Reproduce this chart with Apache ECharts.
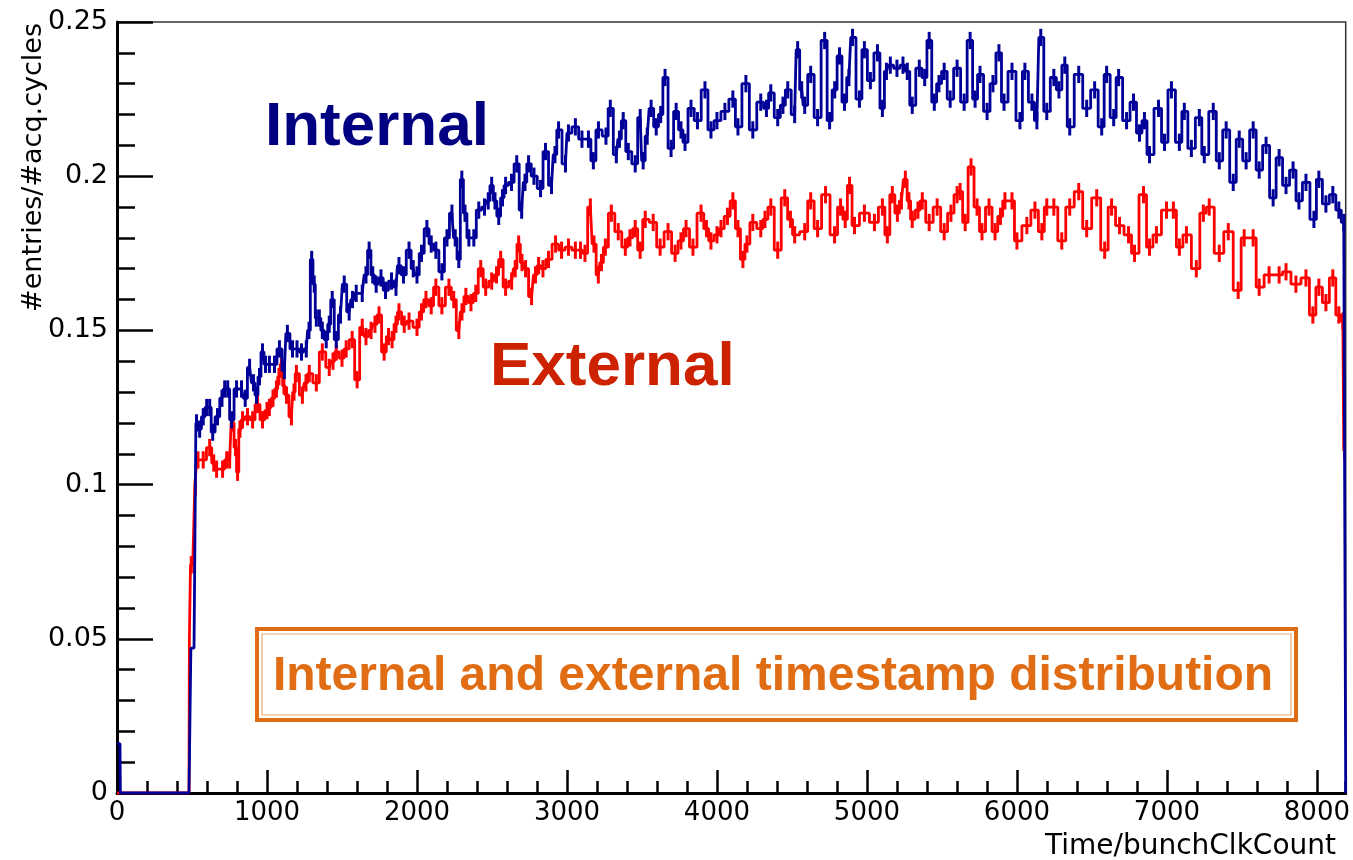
<!DOCTYPE html>
<html>
<head>
<meta charset="utf-8">
<title>Internal and external timestamp distribution</title>
<script src="https://cdn.jsdelivr.net/npm/echarts@6/dist/echarts.min.js"></script>
<style>
  html, body { margin: 0; padding: 0; background: #fff; }
  #chart { width: 1353px; height: 860px; }
</style>
</head>
<body>
<div id="chart"></div>
<script>
// x range of the histogram (bunch clock counts)
const xMin = 0
const xMax = 8192
const yTicks = [0, 0.05, 0.1, 0.15, 0.2, 0.25]
// half length of the error bar on each bin
const errBar = 0.0028

// Internal timestamps: [time, entries/cycles]
const internalPts = [
  [0, 0.016], [20, 0.016], [25, 0], [480, 0], [505, 0.047], [522, 0.047], [530, 0.120], [551, 0.118],
  [575, 0.122], [598, 0.125], [618, 0.125], [638, 0.117], [670, 0.122], [700, 0.128], [718, 0.131],
  [738, 0.131], [764, 0.121], [797, 0.131], [830, 0.131], [855, 0.128], [884, 0.138], [910, 0.133],
  [930, 0.129], [950, 0.135], [970, 0.143], [990, 0.139], [1016, 0.139], [1050, 0.139], [1083, 0.144],
  [1116, 0.137], [1136, 0.149], [1170, 0.144], [1200, 0.144], [1230, 0.143], [1262, 0.144], [1280, 0.150],
  [1298, 0.173], [1315, 0.165], [1329, 0.154], [1349, 0.154], [1369, 0.150], [1395, 0.147], [1415, 0.152],
  [1435, 0.160], [1462, 0.147], [1490, 0.155], [1515, 0.165], [1548, 0.156], [1570, 0.160], [1595, 0.162],
  [1635, 0.162], [1660, 0.168], [1681, 0.176], [1705, 0.168], [1728, 0.165], [1760, 0.167], [1790, 0.163],
  [1830, 0.166], [1860, 0.164], [1880, 0.171], [1910, 0.168], [1947, 0.176], [1975, 0.170], [2000, 0.168],
  [2030, 0.175], [2066, 0.183], [2095, 0.178], [2126, 0.176], [2166, 0.169], [2200, 0.180], [2233, 0.188],
  [2255, 0.180], [2279, 0.173], [2299, 0.199], [2320, 0.188], [2346, 0.180], [2379, 0.180], [2412, 0.189],
  [2450, 0.190], [2475, 0.192], [2498, 0.197], [2520, 0.192], [2545, 0.187], [2570, 0.193], [2591, 0.197],
  [2630, 0.198], [2665, 0.204], [2698, 0.189], [2720, 0.198], [2744, 0.204], [2780, 0.200], [2824, 0.196],
  [2857, 0.208], [2897, 0.197], [2920, 0.207], [2944, 0.215], [2990, 0.204], [3010, 0.214], [3056, 0.216],
  [3100, 0.212], [3143, 0.212], [3176, 0.205], [3210, 0.215], [3260, 0.213], [3289, 0.222], [3329, 0.207],
  [3350, 0.212], [3375, 0.218], [3409, 0.208], [3455, 0.204], [3488, 0.219], [3508, 0.205], [3535, 0.213],
  [3561, 0.222], [3595, 0.216], [3625, 0.220], [3654, 0.232], [3694, 0.209], [3728, 0.221], [3760, 0.215],
  [3787, 0.211], [3827, 0.222], [3870, 0.218], [3920, 0.228], [3960, 0.215], [4000, 0.218], [4053, 0.221],
  [4106, 0.225], [4140, 0.216], [4193, 0.230], [4239, 0.215], [4292, 0.224], [4330, 0.222], [4359, 0.227],
  [4405, 0.219], [4440, 0.223], [4472, 0.228], [4518, 0.220], [4538, 0.241], [4565, 0.228], [4585, 0.223],
  [4625, 0.233], [4671, 0.219], [4718, 0.244], [4751, 0.218], [4785, 0.228], [4817, 0.239], [4850, 0.224],
  [4880, 0.232], [4904, 0.245], [4950, 0.225], [4983, 0.241], [5023, 0.231], [5070, 0.240], [5103, 0.222],
  [5130, 0.234], [5156, 0.236], [5200, 0.235], [5240, 0.236], [5269, 0.234], [5302, 0.223], [5349, 0.235],
  [5385, 0.232], [5415, 0.244], [5449, 0.224], [5480, 0.230], [5515, 0.234], [5555, 0.225], [5601, 0.235],
  [5648, 0.224], [5688, 0.244], [5721, 0.225], [5754, 0.233], [5801, 0.221], [5840, 0.230], [5880, 0.240],
  [5914, 0.224], [5967, 0.234], [6020, 0.218], [6053, 0.234], [6100, 0.224], [6133, 0.218], [6159, 0.245],
  [6199, 0.221], [6246, 0.232], [6280, 0.228], [6319, 0.236], [6352, 0.216], [6412, 0.233], [6465, 0.222],
  [6518, 0.228], [6565, 0.216], [6598, 0.233], [6645, 0.219], [6678, 0.232], [6731, 0.218], [6777, 0.224],
  [6817, 0.214], [6850, 0.218], [6884, 0.207], [6944, 0.222], [6984, 0.211], [7030, 0.228], [7083, 0.211],
  [7116, 0.221], [7163, 0.209], [7216, 0.219], [7249, 0.207], [7309, 0.221], [7349, 0.205], [7395, 0.215],
  [7442, 0.198], [7482, 0.212], [7528, 0.205], [7575, 0.215], [7615, 0.202], [7661, 0.210], [7708, 0.193],
  [7748, 0.206], [7794, 0.197], [7841, 0.202], [7880, 0.192], [7927, 0.198], [7980, 0.186], [8013, 0.199],
  [8060, 0.191], [8106, 0.194], [8146, 0.189], [8179, 0.185], [8192, 0.185], [8192, 0]
]

// External timestamps: [time, entries/cycles]
const externalPts = [
  [0, 0], [480, 0], [485, 0.050], [495, 0.074], [515, 0.074], [522, 0.099], [540, 0.108], [575, 0.108],
  [618, 0.112], [645, 0.107], [664, 0.105], [704, 0.105], [731, 0.108], [751, 0.108], [771, 0.120],
  [790, 0.112], [804, 0.104], [820, 0.118], [837, 0.121], [870, 0.122], [904, 0.121], [937, 0.126],
  [970, 0.121], [1000, 0.124], [1016, 0.125], [1040, 0.128], [1063, 0.131], [1080, 0.135], [1096, 0.139],
  [1113, 0.132], [1130, 0.129], [1163, 0.122], [1180, 0.130], [1196, 0.136], [1236, 0.129], [1260, 0.133],
  [1282, 0.136], [1329, 0.133], [1369, 0.143], [1415, 0.138], [1440, 0.140], [1462, 0.143], [1500, 0.141],
  [1528, 0.144], [1568, 0.147], [1601, 0.134], [1635, 0.151], [1660, 0.148], [1694, 0.150], [1720, 0.152],
  [1747, 0.155], [1781, 0.143], [1810, 0.148], [1834, 0.147], [1860, 0.152], [1880, 0.156], [1915, 0.152],
  [1947, 0.153], [2000, 0.151], [2030, 0.156], [2060, 0.160], [2095, 0.158], [2126, 0.164], [2166, 0.158],
  [2213, 0.164], [2245, 0.160], [2279, 0.150], [2300, 0.156], [2326, 0.161], [2360, 0.159], [2392, 0.162],
  [2425, 0.170], [2458, 0.164], [2498, 0.166], [2530, 0.168], [2558, 0.173], [2591, 0.164], [2631, 0.166],
  [2655, 0.170], [2678, 0.178], [2700, 0.172], [2724, 0.170], [2764, 0.161], [2790, 0.168], [2811, 0.171],
  [2840, 0.170], [2877, 0.173], [2924, 0.178], [2964, 0.176], [3010, 0.177], [3056, 0.176], [3090, 0.176],
  [3120, 0.175], [3156, 0.190], [3180, 0.178], [3209, 0.168], [3230, 0.172], [3256, 0.177], [3296, 0.188],
  [3342, 0.182], [3389, 0.177], [3420, 0.180], [3455, 0.183], [3488, 0.176], [3522, 0.186], [3575, 0.185],
  [3621, 0.177], [3674, 0.182], [3721, 0.175], [3760, 0.179], [3794, 0.183], [3840, 0.177], [3894, 0.188],
  [3930, 0.183], [3960, 0.179], [4000, 0.181], [4027, 0.183], [4070, 0.187], [4106, 0.192], [4140, 0.183],
  [4173, 0.173], [4200, 0.178], [4239, 0.185], [4292, 0.183], [4320, 0.186], [4359, 0.190], [4405, 0.176],
  [4452, 0.193], [4490, 0.186], [4518, 0.181], [4585, 0.182], [4625, 0.192], [4671, 0.183], [4724, 0.194],
  [4784, 0.181], [4824, 0.190], [4855, 0.186], [4884, 0.197], [4917, 0.184], [4983, 0.188], [5050, 0.185],
  [5103, 0.190], [5136, 0.181], [5169, 0.194], [5203, 0.188], [5230, 0.192], [5256, 0.199], [5280, 0.192],
  [5302, 0.186], [5340, 0.189], [5369, 0.192], [5415, 0.185], [5468, 0.190], [5515, 0.182], [5560, 0.188],
  [5601, 0.194], [5621, 0.195], [5655, 0.185], [5694, 0.203], [5734, 0.190], [5767, 0.182], [5814, 0.190],
  [5854, 0.182], [5890, 0.187], [5920, 0.192], [5967, 0.192], [6000, 0.179], [6066, 0.184], [6120, 0.189],
  [6166, 0.182], [6199, 0.190], [6246, 0.190], [6299, 0.179], [6352, 0.190], [6412, 0.195], [6465, 0.183],
  [6532, 0.193], [6585, 0.176], [6631, 0.190], [6684, 0.184], [6744, 0.181], [6784, 0.175], [6844, 0.194],
  [6884, 0.177], [6930, 0.181], [6997, 0.189], [7043, 0.189], [7083, 0.177], [7130, 0.181], [7196, 0.170],
  [7243, 0.188], [7282, 0.190], [7349, 0.175], [7409, 0.182], [7475, 0.163], [7515, 0.180], [7575, 0.180],
  [7615, 0.164], [7681, 0.168], [7748, 0.168], [7794, 0.169], [7860, 0.165], [7927, 0.167], [7973, 0.155],
  [8013, 0.164], [8060, 0.159], [8106, 0.167], [8146, 0.155], [8173, 0.153], [8185, 0.111], [8192, 0.111]
]

const blue = '#000099'
const red = '#ff0000'
const orange = '#e06c14'
const labelFont = 'DejaVu Sans'

const chart = echarts.init(document.getElementById('chart'), null, { renderer: 'canvas' })

// 误差棒
function errorBars(pts, color) {
  return {
    type: 'custom',
    silent: true,
    clip: true,
    data: pts.filter(p => p[1] > 0.06 && p[0] < xMax),
    renderItem: (params, api) => {
      const x = api.value(0)
      const v = api.value(1)
      const lo = api.coord([x, v - errBar])
      const hi = api.coord([x, v + errBar])
      return {
        type: 'line',
        shape: { x1: lo[0], y1: lo[1], x2: hi[0], y2: hi[1] },
        style: { stroke: color, lineWidth: 3 }
      }
    }
  }
}

const tickStyle = { color: '#000', width: 2.5 }

const option = {
  animation: false,
  backgroundColor: '#fff',
  grid: { left: 117, top: 22, right: 4, bottom: 67, show: true, borderColor: '#333', borderWidth: 1.5 },
  xAxis: [
    {
      type: 'value', min: xMin, max: xMax, interval: 1000,
      axisLine: { show: true, lineStyle: { color: '#000', width: 3 } },
      axisTick: { show: true, inside: true, length: 23, lineStyle: tickStyle },
      splitLine: { show: false },
      axisLabel: {
        fontFamily: labelFont, fontSize: 26, color: '#000', margin: 7, showMaxLabel: false,
        formatter: v => String(v)
      }
    },
    {
      // short ticks every 200
      type: 'value', min: xMin, max: xMax, interval: 200, position: 'bottom',
      axisLine: { show: false },
      axisTick: { show: true, inside: true, length: 12, lineStyle: tickStyle },
      splitLine: { show: false },
      axisLabel: { show: false }
    }
  ],
  yAxis: {
    type: 'value', min: yTicks[0], max: yTicks[yTicks.length - 1], interval: 0.05,
    axisLine: { show: true, lineStyle: { color: '#000', width: 3 } },
    axisTick: { show: true, inside: true, length: 36, lineStyle: tickStyle },
    minorTick: { show: true, splitNumber: 5, length: 18, lineStyle: tickStyle },
    splitLine: { show: false },
    axisLabel: { fontFamily: labelFont, fontSize: 27, color: '#000', margin: 9, formatter: v => String(+v.toFixed(2)) }
  },
  series: [
    {
      name: 'External', type: 'line', step: 'middle', symbol: 'none',
      data: externalPts, lineStyle: { color: red, width: 2.8 }, z: 2
    },
    Object.assign(errorBars(externalPts, red), { z: 2 }),
    {
      name: 'Internal', type: 'line', step: 'middle', symbol: 'none',
      data: internalPts, lineStyle: { color: blue, width: 2.8 }, z: 3
    },
    Object.assign(errorBars(internalPts, blue), { z: 3 })
  ],
  graphic: [
    {
      type: 'text', x: 33.5, y: 23, rotation: Math.PI / 2,
      style: { text: '#entries/#acq.cycles', font: '27px "DejaVu Sans"', fill: '#000', align: 'right', verticalAlign: 'middle' }
    },
    {
      type: 'text', x: 1336, y: 847,
      style: { text: 'Time/bunchClkCount', font: '28px "DejaVu Sans"', fill: '#000', align: 'right', verticalAlign: 'middle' }
    },
    {
      type: 'text', x: 265, y: 128, z: 10,
      style: { text: 'Internal', font: 'bold 62px "Liberation Sans"', fill: '#000080', align: 'left', verticalAlign: 'middle' }
    },
    {
      type: 'text', x: 490, y: 368, z: 10,
      style: { text: 'External', font: 'bold 62px "Liberation Sans"', fill: '#cc2200', align: 'left', verticalAlign: 'middle' }
    },
    {
      type: 'rect', z: 10,
      shape: { x: 257, y: 629, width: 1039, height: 91 },
      style: { fill: '#fff', stroke: orange, lineWidth: 4 }
    },
    {
      type: 'rect', z: 10,
      shape: { x: 262, y: 634, width: 1029, height: 81 },
      style: { fill: 'none', stroke: orange, lineWidth: 1.2, opacity: 0.6 }
    },
    {
      type: 'text', x: 773, y: 677, z: 11,
      style: { text: 'Internal and external timestamp distribution', font: 'bold 48px "Liberation Sans"', fill: orange, align: 'center', verticalAlign: 'middle' }
    }
  ]
}

chart.setOption(option)
</script>
</body>
</html>
